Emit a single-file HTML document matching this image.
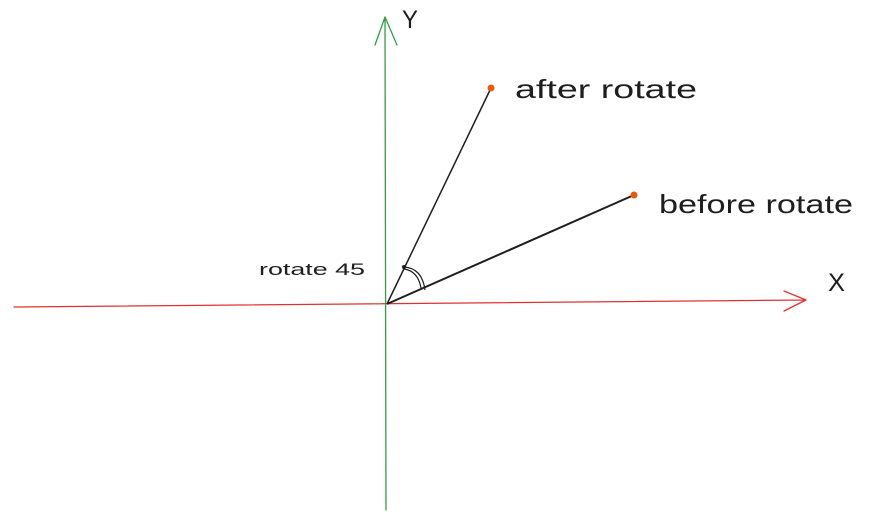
<!DOCTYPE html>
<html><head><meta charset="utf-8"><style>
html,body{margin:0;padding:0;background:#fff;}
svg{display:block}
text{font-family:"Liberation Sans","DejaVu Sans",sans-serif;fill:#1e1e1e}
</style></head><body>
<svg width="873" height="521" viewBox="0 0 873 521">
<g id="g"></g>
</svg>
<script>
const pointNames=["after-rotate","before-rotate"];
const pointX=[491,634];
const pointY=[88,195];
const labels=["after rotate","before rotate"];
const origin=[387,304];
const ns="http://www.w3.org/2000/svg";
const g=document.getElementById('g');
function mk(t,a,parent){const e=document.createElementNS(ns,t);for(const k in a)e.setAttribute(k,a[k]);(parent||g).appendChild(e);return e;}
let e=mk('path',{d:"M14 307 L806 300 M806 300 L784 291 M806 300 L784 311",stroke:"#e03131","stroke-width":1.3,fill:"none","stroke-linecap":"round"});


e=mk('path',{d:"M386 510 L385 17 M385 17 L375 45 M385 17 L397 45",stroke:"#2f9e44","stroke-width":1.3,fill:"none","stroke-linecap":"round"});


e=mk('text',{x:828,y:291,"font-size":25,textLength:17,lengthAdjust:"spacingAndGlyphs"});e.textContent="X";


e=mk('text',{x:402,y:28,"font-size":25,textLength:16,lengthAdjust:"spacingAndGlyphs"});e.textContent="Y";


const ly=[98,213],lx=[515,659],lw=[182,194];
for(let i=0;i<pointX.length;i++){
 e=mk('line',{x1:origin[0],y1:origin[1],x2:pointX[i],y2:pointY[i],stroke:"#1e1e1e","stroke-width":i?2:1.5});
 
 
 e=mk('circle',{cx:pointX[i],cy:pointY[i],r:3.5,fill:"#e8590c"});
 
 
 e=mk('text',{x:lx[i],y:ly[i],"font-size":26,textLength:lw[i],lengthAdjust:"spacingAndGlyphs"});e.textContent=labels[i];
 
 
}
e=mk('path',{d:"M404 267 Q422 268 425 290 M404 269 Q418 271 421 288",stroke:"#1e1e1e","stroke-width":1.2,fill:"none"});


e=mk('circle',{cx:404,cy:267,r:2,fill:"#1e1e1e"});


e=mk('text',{x:259,y:275,"font-size":17,textLength:106,lengthAdjust:"spacingAndGlyphs"});e.textContent="rotate 45";


</script>
</body></html>
